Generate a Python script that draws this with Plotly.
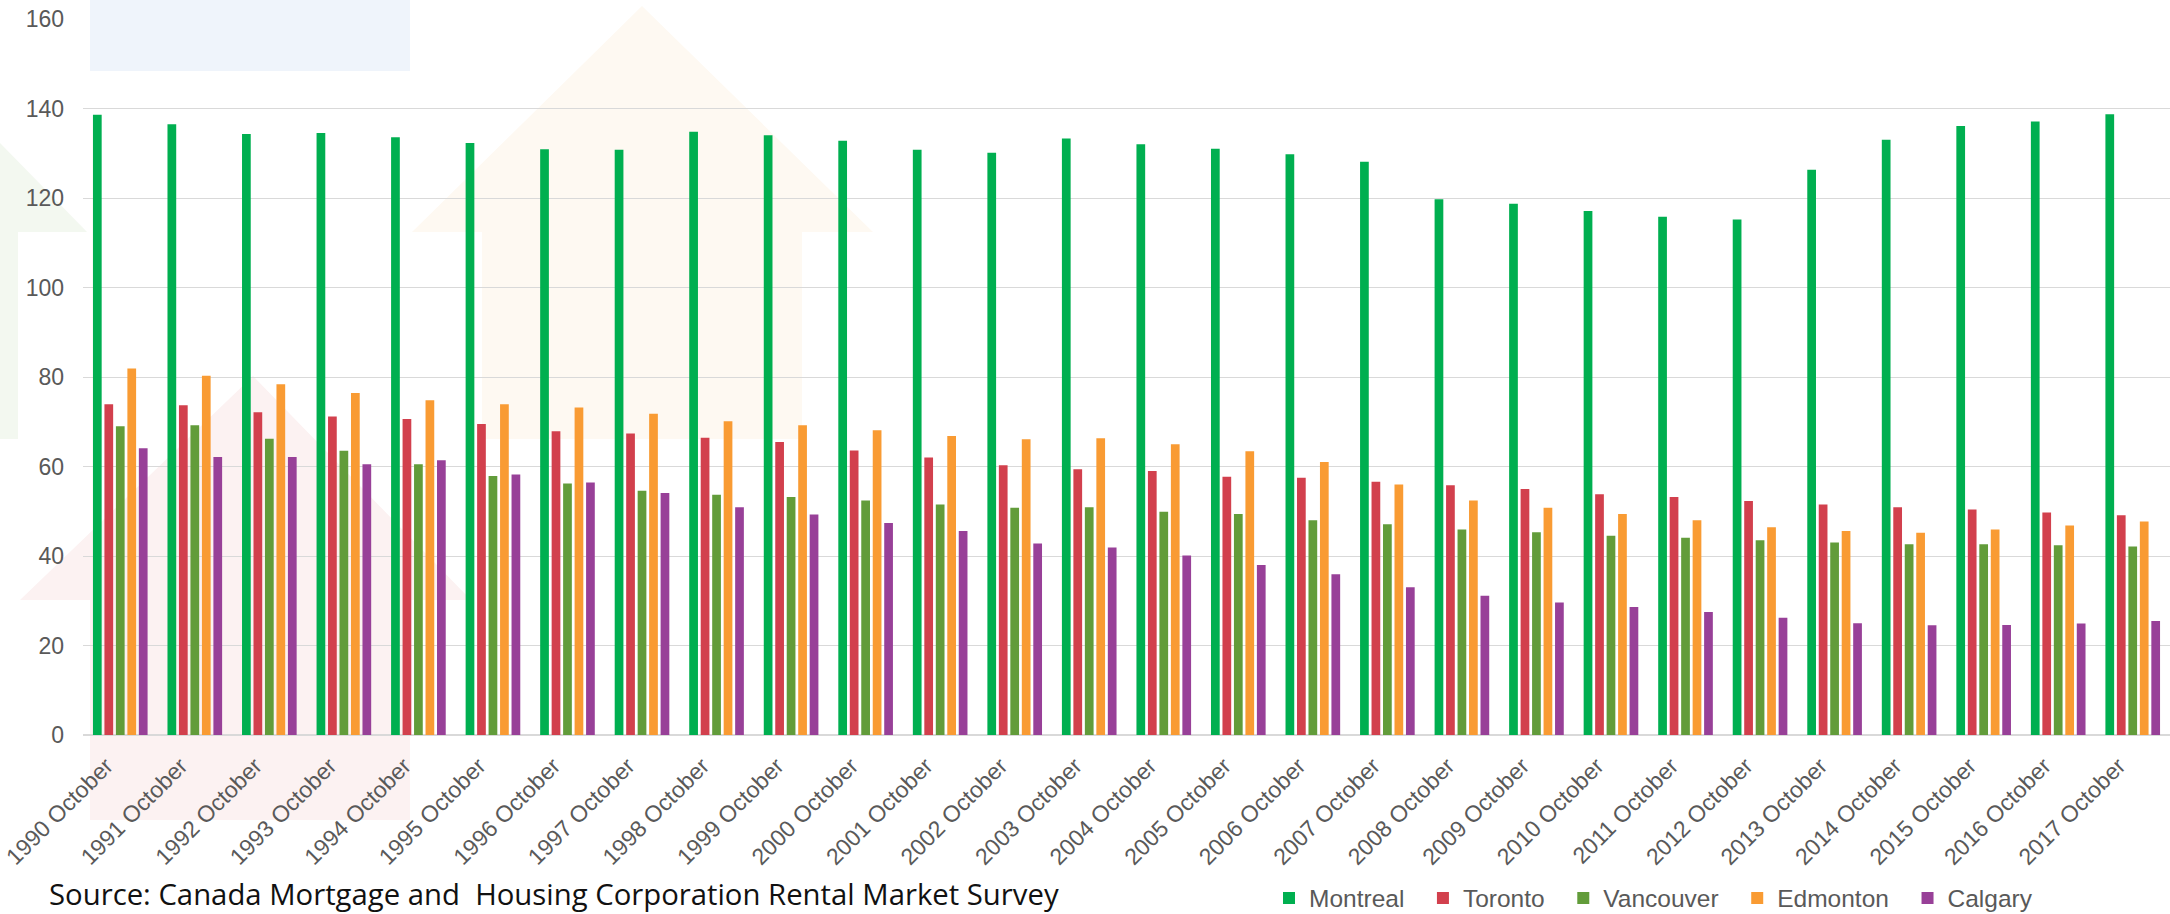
import plotly.graph_objects as go

categories = ["1990 October", "1991 October", "1992 October", "1993 October", "1994 October",
              "1995 October", "1996 October", "1997 October", "1998 October", "1999 October",
              "2000 October", "2001 October", "2002 October", "2003 October", "2004 October",
              "2005 October", "2006 October", "2007 October", "2008 October", "2009 October",
              "2010 October", "2011 October", "2012 October", "2013 October", "2014 October",
              "2015 October", "2016 October", "2017 October"]

montreal = [138.6, 136.5, 134.3, 134.5, 133.6, 132.3, 130.9, 130.8, 134.8, 134.0,
            132.8, 130.8, 130.1, 133.3, 132.0, 131.0, 129.8, 128.1, 119.7, 118.7,
            117.1, 115.8, 115.2, 126.3, 133.0, 136.1, 137.1, 138.7]
toronto = [73.9, 73.7, 72.1, 71.2, 70.6, 69.5, 67.9, 67.4, 66.4, 65.5,
           63.6, 62.0, 60.3, 59.4, 59.0, 57.7, 57.5, 56.6, 55.8, 55.0,
           53.8, 53.2, 52.3, 51.5, 50.9, 50.4, 49.7, 49.1]
vancouver = [69.0, 69.2, 66.2, 63.5, 60.5, 57.9, 56.2, 54.6, 53.7, 53.2,
             52.4, 51.5, 50.8, 50.9, 49.9, 49.4, 48.0, 47.1, 45.9, 45.3,
             44.5, 44.1, 43.5, 43.0, 42.6, 42.6, 42.4, 42.1]
edmonton = [81.9, 80.3, 78.4, 76.4, 74.8, 73.9, 73.2, 71.8, 70.1, 69.2,
            68.1, 66.8, 66.1, 66.3, 65.0, 63.4, 61.0, 56.0, 52.4, 50.8,
            49.4, 48.0, 46.4, 45.6, 45.2, 45.9, 46.8, 47.7]
calgary = [64.1, 62.1, 62.1, 60.5, 61.4, 58.2, 56.4, 54.1, 50.9, 49.3,
           47.4, 45.6, 42.8, 41.9, 40.1, 38.0, 35.9, 33.0, 31.1, 29.6,
           28.6, 27.5, 26.2, 25.0, 24.5, 24.6, 24.9, 25.5]

series_names = ["Montreal", "Toronto", "Vancouver", "Edmonton", "Calgary"]
series_values = [montreal, toronto, vancouver, edmonton, calgary]
colors = ["#00AF50", "#D2404D", "#629C3A", "#F99B33", "#984098"]

source_text = "Source: Canada Mortgage and  Housing Corporation Rental Market Survey"

W, H = 2170, 914
ML, MR, MT, MB = 83, 0, 19, 179
PW, PH = W - ML - MR, H - MT - MB

def px2paper(x, y):
    return (x - ML) / PW, (H - MB - y) / PH

def poly(points):
    pts = [px2paper(x, y) for x, y in points]
    return "M" + " L".join(f"{a:.5f},{b:.5f}" for a, b in pts) + " Z"

decor = [
    ([(0, 143), (87, 232), (18, 232), (18, 439), (0, 439)], "#F3F8F0"),
    ([(642, 6), (873, 232), (802, 232), (802, 439), (482, 439), (482, 232), (412, 232)], "#FEF9F2"),
    ([(253, 376), (471, 600), (410, 600), (410, 820), (90, 820), (90, 600), (20, 600)], "#FCF2F2"),
    ([(90, 0), (410, 0), (410, 71), (90, 71)], "#EFF4FB"),
]

fig = go.Figure()
nb = "\u00a0"
for name, vals, col in zip(series_names, series_values, colors):
    fig.add_trace(go.Bar(x=categories, y=vals, name=name + nb * 2,
                         marker=dict(color=col, line=dict(width=0))))

shapes = [dict(type="path", path=poly(p), xref="paper", yref="paper",
               fillcolor=c, line=dict(width=0), layer="below") for p, c in decor]

fig.update_layout(
    width=W, height=H,
    margin=dict(l=ML, r=MR, t=MT, b=MB, autoexpand=False),
    paper_bgcolor="white", plot_bgcolor="rgba(0,0,0,0)",
    barmode="group", bargap=0.23, bargroupgap=0.24,
    font=dict(family="Liberation Sans, Arial, sans-serif", size=22, color="#595959"),
    shapes=shapes,
    showlegend=True,
    legend=dict(orientation="h", xref="container", yref="container",
                x=1269 / W, xanchor="left", y=1 - 898 / H, yanchor="middle",
                font=dict(size=24.5, color="#595959"), bgcolor="rgba(0,0,0,0)",
                traceorder="normal"),
    xaxis=dict(tickangle=-45, showgrid=False, ticks="", showline=False, automargin=False,
               tickfont=dict(size=23, color="#595959"),
               ticklabelstandoff=12, ticklabelshift=-14),
    yaxis=dict(range=[0, 160], dtick=20, showgrid=True, gridcolor="#D9D9D9", gridwidth=1.3,
               zeroline=True, zerolinecolor="#D9D9D9", zerolinewidth=2.2, automargin=False,
               showline=False, ticks="", tickfont=dict(size=23, color="#595959"),
               ticklabelstandoff=18),
    annotations=[dict(text=source_text, xref="paper", yref="paper",
                      x=px2paper(47, 0)[0], y=px2paper(0, 894)[1],
                      xanchor="left", yanchor="middle", showarrow=False,
                      font=dict(family="Open Sans, sans-serif", size=29.3, color="#111111"))],
)

fig.write_html("out.html", config={"displayModeBar": False},
               post_script="document.body.style.margin='0';document.body.style.overflow='hidden';")
